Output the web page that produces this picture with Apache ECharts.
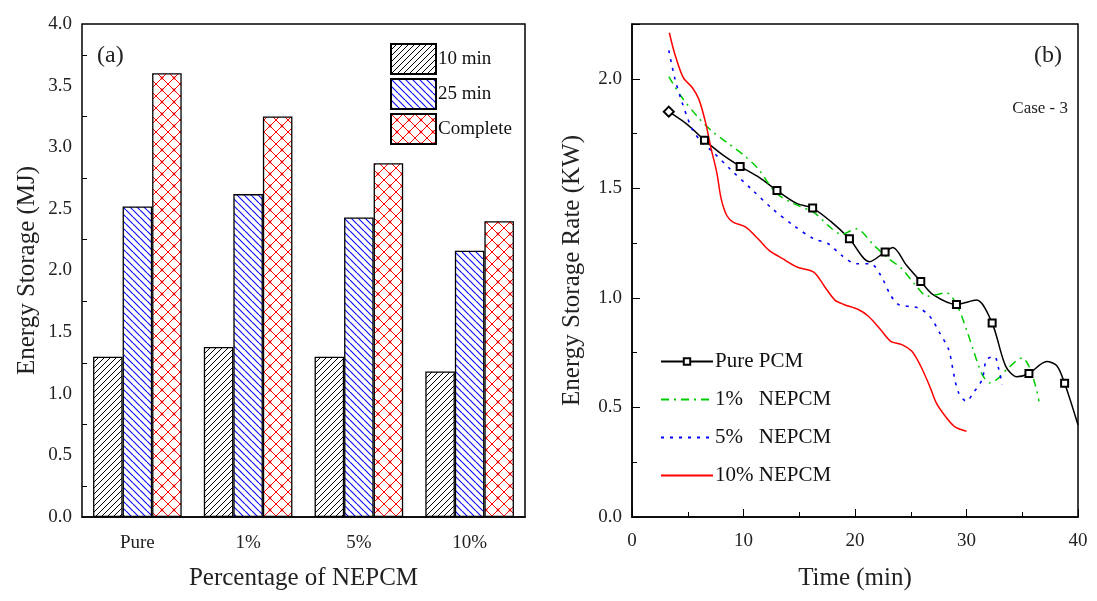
<!DOCTYPE html>
<html>
<head>
<meta charset="utf-8">
<script src="https://cdn.jsdelivr.net/npm/echarts@6/dist/echarts.min.js"></script>
<style>
html,body{margin:0;padding:0;background:#fff;}
#chart{width:1097px;height:601px;}
</style>
</head>
<body>
<div id="chart"></div>
<script>
// ---------- DATA ----------
const categories = ['Pure', '1%', '5%', '10%'];
const barNames = ['10 min', '25 min', 'Complete'];
const bar10min = [1.30, 1.38, 1.30, 1.18];
const bar25min = [2.52, 2.62, 2.43, 2.16];
const barComplete = [3.60, 3.25, 2.87, 2.40];

const lineNames = ['Pure PCM', '1%   NEPCM', '5%   NEPCM', '10% NEPCM'];
const pureX = [3.3, 5.0, 6.5, 8.2, 9.7, 11.4, 13.0, 14.8, 16.2, 17.8, 19.5, 21.3, 22.7, 23.4, 24.6, 25.9, 27.0, 29.1, 30.9, 32.3, 33.5, 34.5, 35.6, 37.2, 38.1, 38.8, 40.0];
const pureY = [1.85, 1.79, 1.72, 1.65, 1.60, 1.55, 1.49, 1.43, 1.41, 1.35, 1.27, 1.165, 1.21, 1.23, 1.15, 1.075, 1.015, 0.97, 0.99, 0.885, 0.69, 0.64, 0.655, 0.71, 0.69, 0.61, 0.42];
const pureMarkIdx = [0, 2, 4, 6, 8, 10, 12, 15, 17, 19, 22, 25];
const greenX = [3.3, 4.4, 6.0, 7.3, 8.5, 10.1, 11.3, 12.9, 14.5, 16.3, 17.6, 18.8, 20.1, 21.7, 23.0, 24.2, 25.4, 26.5, 28.2, 29.2, 30.0, 30.6, 31.1, 31.5, 32.1, 32.9, 33.6, 35.0, 35.6, 36.2, 36.5];
const greenY = [2.01, 1.92, 1.82, 1.755, 1.71, 1.648, 1.59, 1.48, 1.43, 1.39, 1.33, 1.29, 1.315, 1.24, 1.18, 1.133, 1.06, 1.008, 1.023, 0.96, 0.855, 0.764, 0.688, 0.642, 0.612, 0.635, 0.673, 0.726, 0.688, 0.597, 0.528];
const blueX = [3.3, 3.8, 4.4, 5.4, 6.3, 7.3, 8.8, 10.7, 12.6, 14.5, 16.3, 17.6, 18.8, 20.1, 21.4, 22.3, 23.2, 23.9, 25.7, 26.7, 27.6, 28.4, 28.9, 29.3, 30.0, 30.6, 31.4, 31.8, 32.5, 32.9, 33.2];
const blueY = [2.13, 2.01, 1.906, 1.77, 1.709, 1.664, 1.588, 1.497, 1.406, 1.33, 1.27, 1.247, 1.194, 1.156, 1.156, 1.103, 1.012, 0.97, 0.954, 0.916, 0.84, 0.764, 0.642, 0.566, 0.528, 0.566, 0.627, 0.718, 0.733, 0.673, 0.604];
const redX = [3.35, 3.8, 4.6, 5.4, 6.0, 6.6, 7.1, 7.6, 8.0, 8.5, 9.1, 10.2, 11.3, 12.3, 13.5, 14.8, 16.3, 17.3, 18.2, 19.0, 20.3, 21.2, 22.3, 23.2, 24.2, 25.1, 25.9, 26.7, 27.3, 28.1, 28.9, 30.0];
const redY = [2.21, 2.12, 2.005, 1.96, 1.906, 1.80, 1.68, 1.573, 1.452, 1.376, 1.345, 1.323, 1.27, 1.217, 1.179, 1.141, 1.118, 1.05, 0.99, 0.97, 0.947, 0.916, 0.855, 0.802, 0.787, 0.756, 0.688, 0.597, 0.52, 0.46, 0.414, 0.391];

// ---------- STYLE HELPERS ----------
const FONT = 'Liberation Serif';
function hatch(color, dir, size, lw) {
  const c = document.createElement('canvas');
  c.width = c.height = size;
  const g = c.getContext('2d');
  g.fillStyle = '#fff'; g.fillRect(0, 0, size, size);
  g.strokeStyle = color; g.lineWidth = lw;
  g.beginPath();
  for (let k = -1; k <= 1; k++) {
    if (dir > 0) { g.moveTo(k * size, size); g.lineTo(k * size + size, 0); }
    else { g.moveTo(k * size, 0); g.lineTo(k * size + size, size); }
  }
  g.stroke();
  return c;
}
function cross(color, size, lw) {
  const c = document.createElement('canvas');
  c.width = c.height = size;
  const g = c.getContext('2d');
  g.fillStyle = '#fff'; g.fillRect(0, 0, size, size);
  g.strokeStyle = color; g.lineWidth = lw;
  g.beginPath();
  for (let k = -1; k <= 1; k++) {
    g.moveTo(k * size, size); g.lineTo(k * size + size, 0);
    g.moveTo(k * size, 0); g.lineTo(k * size + size, size);
  }
  g.stroke();
  g.fillStyle = color;
  g.beginPath(); g.arc(size / 2, size / 2, 1.4, 0, Math.PI * 2); g.fill();
  return c;
}
const pat10 = { image: hatch('#000', 1, 6, 1), repeat: 'repeat' };
const pat25 = { image: hatch('#1010ff', -1, 7, 1.2), repeat: 'repeat' };
const patC = { image: cross('#ff0000', 12, 1), repeat: 'repeat' };

function zip(xs, ys) { return xs.map((x, i) => [x, ys[i]]); }
const pureData = pureX.map((x, i) => ({
  value: [x, pureY[i]],
  symbol: pureMarkIdx.indexOf(i) >= 0 ? (i === 0 ? 'emptyDiamond' : 'emptyRect') : 'none',
  symbolSize: i === 0 ? 10 : 7
}));

const axisTxt = { fontFamily: FONT, fontSize: 19, color: '#222' };
const nameTxt = { fontFamily: FONT, fontSize: 25, color: '#222' };
const blackLine = { lineStyle: { color: '#000', width: 1.5 } };

const chart = echarts.init(document.getElementById('chart'));
chart.setOption({
  animation: false,
  backgroundColor: '#fff',
  grid: [
    { left: 82, top: 24, width: 443, height: 493, show: true, borderColor: '#000', borderWidth: 1.5, backgroundColor: 'transparent' },
    { left: 632, top: 24, width: 446, height: 493, show: true, borderColor: '#000', borderWidth: 1.5, backgroundColor: 'transparent' }
  ],
  xAxis: [
    { type: 'category', gridIndex: 0, data: categories,
      name: 'Percentage of NEPCM', nameLocation: 'middle', nameGap: 49, nameTextStyle: nameTxt,
      axisLine: blackLine, axisTick: { inside: true, length: 6, lineStyle: { color: '#000' } },
      axisLabel: Object.assign({ margin: 17 }, axisTxt), splitLine: { show: false } },
    { type: 'value', gridIndex: 1, min: 0, max: 40, interval: 10,
      name: 'Time (min)', nameLocation: 'middle', nameGap: 49, nameTextStyle: nameTxt,
      axisLine: blackLine, axisTick: { inside: true, length: 8, lineStyle: { color: '#000' } },
      minorTick: { show: true, splitNumber: 2, length: 5, lineStyle: { color: '#000' } },
      axisLabel: Object.assign({ margin: 15 }, axisTxt), splitLine: { show: false } }
  ],
  yAxis: [
    { type: 'value', gridIndex: 0, min: 0, max: 4, interval: 0.5,
      name: 'Energy Storage (MJ)', nameLocation: 'middle', nameGap: 42, nameTextStyle: nameTxt,
      axisLine: blackLine, axisTick: { inside: true, length: 8, lineStyle: { color: '#000' } },
      minorTick: { show: true, splitNumber: 2, length: 5, lineStyle: { color: '#000' } },
      axisLabel: Object.assign({ margin: 10, formatter: v => v.toFixed(1) }, axisTxt), splitLine: { show: false } },
    { type: 'value', gridIndex: 1, min: 0, max: 2.25, interval: 0.5,
      name: 'Energy Storage Rate (KW)', nameLocation: 'middle', nameGap: 47, nameTextStyle: nameTxt,
      axisLine: blackLine, axisTick: { inside: true, length: 8, lineStyle: { color: '#000' } },
      minorTick: { show: true, splitNumber: 2, length: 5, lineStyle: { color: '#000' } },
      axisLabel: Object.assign({ margin: 10, formatter: v => v > 2.2 ? '' : v.toFixed(1) }, axisTxt), splitLine: { show: false } }
  ],
  legend: [
    { data: barNames, orient: 'vertical', left: 385, top: 38, itemWidth: 45, itemHeight: 30, itemGap: 3,
      icon: 'rect', textStyle: { fontFamily: FONT, fontSize: 19, color: '#111', padding: [0, 0, 0, -3] } },
    { data: [
        { name: lineNames[0] },
        { name: lineNames[1], itemStyle: { opacity: 0 } },
        { name: lineNames[2], itemStyle: { opacity: 0 } },
        { name: lineNames[3], itemStyle: { opacity: 0 } }
      ],
      orient: 'vertical', left: 655, top: 346, itemWidth: 52, itemHeight: 8, itemGap: 17,
      textStyle: { fontFamily: FONT, fontSize: 21, color: '#111', lineHeight: 21, padding: [0, 0, 0, -3] } }
  ],
  graphic: [
    { type: 'text', left: 97, top: 44, style: { text: '(a)', font: '24px "Liberation Serif"', fill: '#222' } },
    { type: 'text', left: 1034, top: 44, style: { text: '(b)', font: '24px "Liberation Serif"', fill: '#222' } },
    { type: 'text', right: 29, top: 100, style: { text: 'Case - 3', font: '17px "Liberation Serif"', fill: '#222' } }
  ],
  series: [
    { name: '10 min', type: 'bar', xAxisIndex: 0, yAxisIndex: 0, data: bar10min, barGap: '0%', barCategoryGap: '20%',
      itemStyle: { color: pat10, borderColor: '#000', borderWidth: 1.3 } },
    { name: '25 min', type: 'bar', xAxisIndex: 0, yAxisIndex: 0, data: bar25min, barGap: '0%', barCategoryGap: '20%',
      itemStyle: { color: pat25, borderColor: '#000', borderWidth: 1.3 } },
    { name: 'Complete', type: 'bar', xAxisIndex: 0, yAxisIndex: 0, data: barComplete, barGap: '0%', barCategoryGap: '20%',
      itemStyle: { color: patC, borderColor: '#000', borderWidth: 1.3 } },
    { name: lineNames[0], type: 'line', xAxisIndex: 1, yAxisIndex: 1, data: pureData, smooth: 0.3,
      symbol: 'emptyRect', symbolSize: 7, showAllSymbol: true,
      lineStyle: { color: '#000', width: 1.5 }, itemStyle: { color: '#000', borderColor: '#000', borderWidth: 1.3 } },
    { name: lineNames[1], type: 'line', xAxisIndex: 1, yAxisIndex: 1, data: zip(greenX, greenY), smooth: 0.3, symbol: 'none',
      lineStyle: { color: '#00cc00', width: 1.5, type: [8, 5, 2, 5] }, itemStyle: { color: '#00cc00' } },
    { name: lineNames[2], type: 'line', xAxisIndex: 1, yAxisIndex: 1, data: zip(blueX, blueY), smooth: 0.3, symbol: 'none',
      lineStyle: { color: '#0000ff', width: 1.6, type: [3, 6] }, itemStyle: { color: '#0000ff' } },
    { name: lineNames[3], type: 'line', xAxisIndex: 1, yAxisIndex: 1, data: zip(redX, redY), smooth: 0.3, symbol: 'none',
      lineStyle: { color: '#ff0000', width: 1.5 }, itemStyle: { color: '#ff0000' } }
  ]
});
</script>
</body>
</html>
